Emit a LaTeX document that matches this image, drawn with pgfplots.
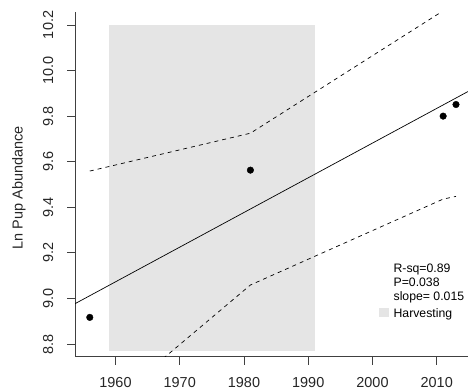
\documentclass[border=0pt]{standalone}
\usepackage{fontspec}
\setmainfont{Liberation Sans}
\usepackage{pgfplots}
\pgfplotsset{compat=1.18}
\definecolor{harvgray}{RGB}{229,229,229}
\newcommand\ls{\rule[-5bp]{0pt}{14bp}}
\begin{document}
\begin{tikzpicture}[x=1bp,y=1bp]
\path[use as bounding box] (0,0) rectangle (468,390);
\begin{axis}[
  at={(75bp,33.2bp)}, anchor=south west,
  scale only axis, width=393bp, height=344.6bp,
  xmin=1953.70, xmax=2014.87, ymin=8.744, ymax=10.256,
  axis x line*=bottom, axis y line*=left,
  axis line style={black!75, line width=0.8bp, -},
  tick align=outside, major tick length=8bp,
  tick style={black!75, line width=0.8bp},
  xtick={1960,1970,1980,1990,2000,2010},
  xticklabels={1960,1970,1980,1990,2000,2010},
  ytick={8.8,9.0,9.2,9.4,9.6,9.8,10.0,10.2},
  yticklabels={8.8,9.0,9.2,9.4,9.6,9.8,10.0,10.2},
  /pgf/number format/assume math mode=true,
  ticklabel style={font=\fontsize{14.5}{17}\selectfont, text=black!85},
  xticklabel style={anchor=north, inner xsep=0pt, inner ysep=12bp},
  yticklabel style={rotate=90, anchor=south, inner xsep=0pt, inner ysep=13.5bp},
  every axis y label/.style={at={(axis description cs:-0.1425,0.49)}, rotate=90, anchor=center, font=\fontsize{14.5}{17}\selectfont, text=black!85},
  ylabel={Ln Pup Abundance},
  legend style={at={(axis cs:2001.02,9.1523)}, anchor=north west, draw=none, fill=none, inner sep=0pt,
    font=\fontsize{12.3}{14}\selectfont, nodes={inner sep=0pt, text depth=}, column sep=5.7bp, row sep=0pt,
    cells={anchor=west}},
]
% harvesting period
\addplot[fill=harvgray, draw=none, forget plot] coordinates {(1959,8.77) (1959,10.2) (1991,10.2) (1991,8.77)} -- cycle;
% regression line
\addplot[black, line width=0.7bp, forget plot] coordinates {(1953.70,8.977) (2014.87,9.908)};
% confidence bands
\addplot[black, line width=0.7bp, dash pattern=on 4bp off 4bp, forget plot] coordinates {(1956,9.559) (1981,9.725) (2011,10.262) (2013,10.310)};
\addplot[black, line width=0.7bp, dash pattern=on 4bp off 4bp, forget plot] coordinates {(1956,8.465) (1981,9.059) (2011,9.436) (2013,9.448)};
% data
\addplot[only marks, mark=*, mark size=3.3bp, black, forget plot] coordinates {(1956,8.917) (1981,9.563) (2011,9.800) (2013,9.851)};
\addlegendimage{empty legend}\addlegendentry{\ls R-sq=0.89}
\addlegendimage{empty legend}\addlegendentry{\ls P=0.038}
\addlegendimage{empty legend}\addlegendentry{\ls slope= 0.015}
\addlegendimage{legend image code/.code={\fill[harvgray] (0bp,-2bp) rectangle (8.3bp,6bp);}}
\addlegendentry{\rule[-5bp]{0pt}{16.6bp}Harvesting}
\end{axis}
\end{tikzpicture}
\end{document}
